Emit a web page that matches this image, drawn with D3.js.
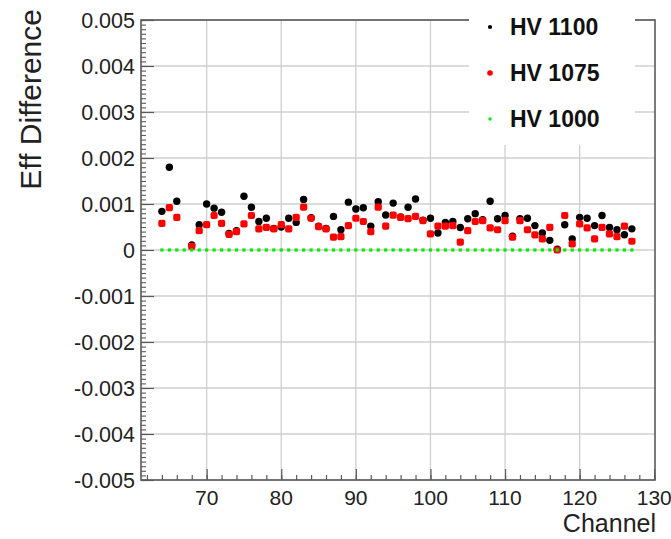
<!DOCTYPE html>
<html><head><meta charset="utf-8">
<script src="https://cdn.jsdelivr.net/npm/d3@7"></script>
<style>body{margin:0;background:#fff}svg{display:block}text{font-family:"Liberation Sans",Arial,sans-serif}</style>
</head><body><svg id="c" width="671" height="539"></svg>
<script>
// Data (values in units of 1e-3)
const channels = d3.range(64, 128);
const hv1100 = [0.84,1.80,1.06,null,0.11,0.55,1.00,0.91,0.82,0.36,0.42,1.17,0.93,0.62,0.69,0.47,
  0.50,0.69,0.60,1.10,0.70,0.52,0.47,0.73,0.44,1.04,0.89,0.92,0.52,1.05,0.76,1.02,
  0.72,0.93,1.11,0.65,0.69,0.37,0.60,0.62,0.49,0.68,0.79,0.66,1.06,0.68,0.75,0.30,
  0.68,0.69,0.53,0.37,0.21,0.02,0.55,0.24,0.71,0.69,0.53,0.75,0.49,0.44,0.33,0.46];
const hv1075 = [0.58,0.92,0.71,null,0.08,0.42,0.55,0.75,0.58,0.34,0.40,0.57,0.75,0.46,0.49,0.46,
  0.55,0.46,0.71,0.93,0.69,0.51,0.46,0.28,0.29,0.53,0.69,0.62,0.40,0.93,0.52,0.76,
  0.71,0.68,0.73,0.64,0.35,0.52,0.52,0.53,0.17,0.42,0.62,0.64,0.48,0.44,0.64,0.28,
  0.64,0.44,0.33,0.24,0.49,0.00,0.75,0.13,0.57,0.48,0.24,0.49,0.35,0.29,0.52,0.19];
const hv1000 = channels.map(() => 0);
const seriesNames = ["HV 1100", "HV 1075", "HV 1000"];
const seriesColors = ["#000000", "#ff0000", "#00ee00"];
const xTickLabels = [70, 80, 90, 100, 110, 120, 130];
const yTickLabels = ["-0.005","-0.004","-0.003","-0.002","-0.001","0","0.001","0.002","0.003","0.004","0.005"];

const svg = d3.select("#c");
const L = 141, R = 655, T = 20, B = 480;
const x = d3.scaleLinear().domain([61.2, 130.1]).range([L, R]);
const y = d3.scaleLinear().domain([-0.005, 0.005]).range([B, T]);

// grid
const gridC = "#cfcfcf";
svg.append("g").selectAll("line").data(xTickLabels.filter(v => x(v) < R - 1)).join("line")
  .attr("x1", d => x(d)).attr("x2", d => x(d)).attr("y1", T).attr("y2", B)
  .attr("stroke", gridC).attr("stroke-width", 1.3);
const yMajor = d3.range(-5, 6).map(i => i * 0.001);
svg.append("g").selectAll("line").data(yMajor).join("line")
  .attr("x1", L).attr("x2", R).attr("y1", d => y(d)).attr("y2", d => y(d))
  .attr("stroke", gridC).attr("stroke-width", 1.3);

// axes via d3 axis generators (ticks inside)
const axC = "#5a5a5a";
const xMinor = d3.range(62, 131, 2).filter(v => x(v) >= L && x(v) <= R);
const xAxisMinor = d3.axisTop(x).tickValues(xMinor).tickSize(5).tickFormat("");
svg.append("g").attr("transform", `translate(0,${B})`).call(xAxisMinor)
  .call(g => g.select(".domain").remove())
  .call(g => g.selectAll("line").attr("stroke", axC).attr("stroke-width", 1.2));
const xAxisMajor = d3.axisTop(x).tickValues(xTickLabels).tickSize(11).tickFormat("");
svg.append("g").attr("transform", `translate(0,${B})`).call(xAxisMajor)
  .call(g => g.select(".domain").remove())
  .call(g => g.selectAll("line").attr("stroke", axC).attr("stroke-width", 1.2));
svg.append("g").selectAll("text").data(xTickLabels).join("text")
  .attr("x", d => x(d)).attr("y", 505).attr("text-anchor", "middle")
  .attr("font-size", 21).attr("fill", "#222").text(d => d);

const yMinor = d3.range(-50, 51).map(i => i * 0.0001);
const yAxisMinor = d3.axisRight(y).tickValues(yMinor).tickSize(5).tickFormat("");
svg.append("g").attr("transform", `translate(${L},0)`).call(yAxisMinor)
  .call(g => g.select(".domain").remove())
  .call(g => g.selectAll("line").attr("stroke", axC).attr("stroke-width", 1.1));
const yAxisMajor = d3.axisRight(y).tickValues(yMajor).tickSize(13).tickFormat("");
svg.append("g").attr("transform", `translate(${L},0)`).call(yAxisMajor)
  .call(g => g.select(".domain").remove())
  .call(g => g.selectAll("line").attr("stroke", axC).attr("stroke-width", 1.2));
svg.append("g").selectAll("text").data(yMajor).join("text")
  .attr("x", 135).attr("y", d => y(d)).attr("dy", "0.36em").attr("text-anchor", "end")
  .attr("font-size", 21.5).attr("fill", "#222").text((d, i) => yTickLabels[i]);

// frame
svg.append("rect").attr("x", L).attr("y", T).attr("width", R - L).attr("height", B - T)
  .attr("fill", "none").attr("stroke", axC).attr("stroke-width", 1.6);

// titles
svg.append("text").attr("transform", "translate(41,9) rotate(-90)")
  .attr("text-anchor", "end").attr("font-size", 30).attr("fill", "#222").text("Eff Difference");
svg.append("text").attr("x", 656).attr("y", 532).attr("text-anchor", "end")
  .attr("font-size", 25).attr("fill", "#222").text("Channel");

// data markers
const pts = (vals) => channels.map((c, i) => ({c, v: vals[i]})).filter(d => d.v !== null);
svg.append("g").selectAll("circle").data(pts(hv1100)).join("circle")
  .attr("cx", d => x(d.c)).attr("cy", d => y(d.v * 1e-3)).attr("r", 3.7).attr("fill", seriesColors[0]);
svg.append("g").selectAll("rect").data(pts(hv1075)).join("rect")
  .attr("x", d => x(d.c) - 3.6).attr("y", d => y(d.v * 1e-3) - 3.6).attr("width", 7.2).attr("height", 7.2)
  .attr("rx", 2).attr("fill", seriesColors[1]);
svg.append("g").selectAll("rect").data(pts(hv1000)).join("rect")
  .attr("x", d => x(d.c) - 1.6).attr("y", d => y(d.v * 1e-3) - 1.6).attr("width", 3.2).attr("height", 3.2)
  .attr("fill", seriesColors[2]);

// legend
const lg = svg.append("g");
lg.append("rect").attr("x", 469).attr("y", 8).attr("width", 166).attr("height", 137).attr("fill", "#fff");
const rowsY = [27, 73, 119];
const mr = [2.1, 2.8, 1.7];
seriesNames.forEach((n, i) => {
  lg.append("circle").attr("cx", 490).attr("cy", rowsY[i]).attr("r", mr[i]).attr("fill", seriesColors[i]);
  lg.append("text").attr("x", 510).attr("y", rowsY[i]).attr("dy", "0.36em")
    .attr("font-size", 23).attr("font-weight", "bold").attr("fill", "#111").text(n);
});
</script></body></html>
